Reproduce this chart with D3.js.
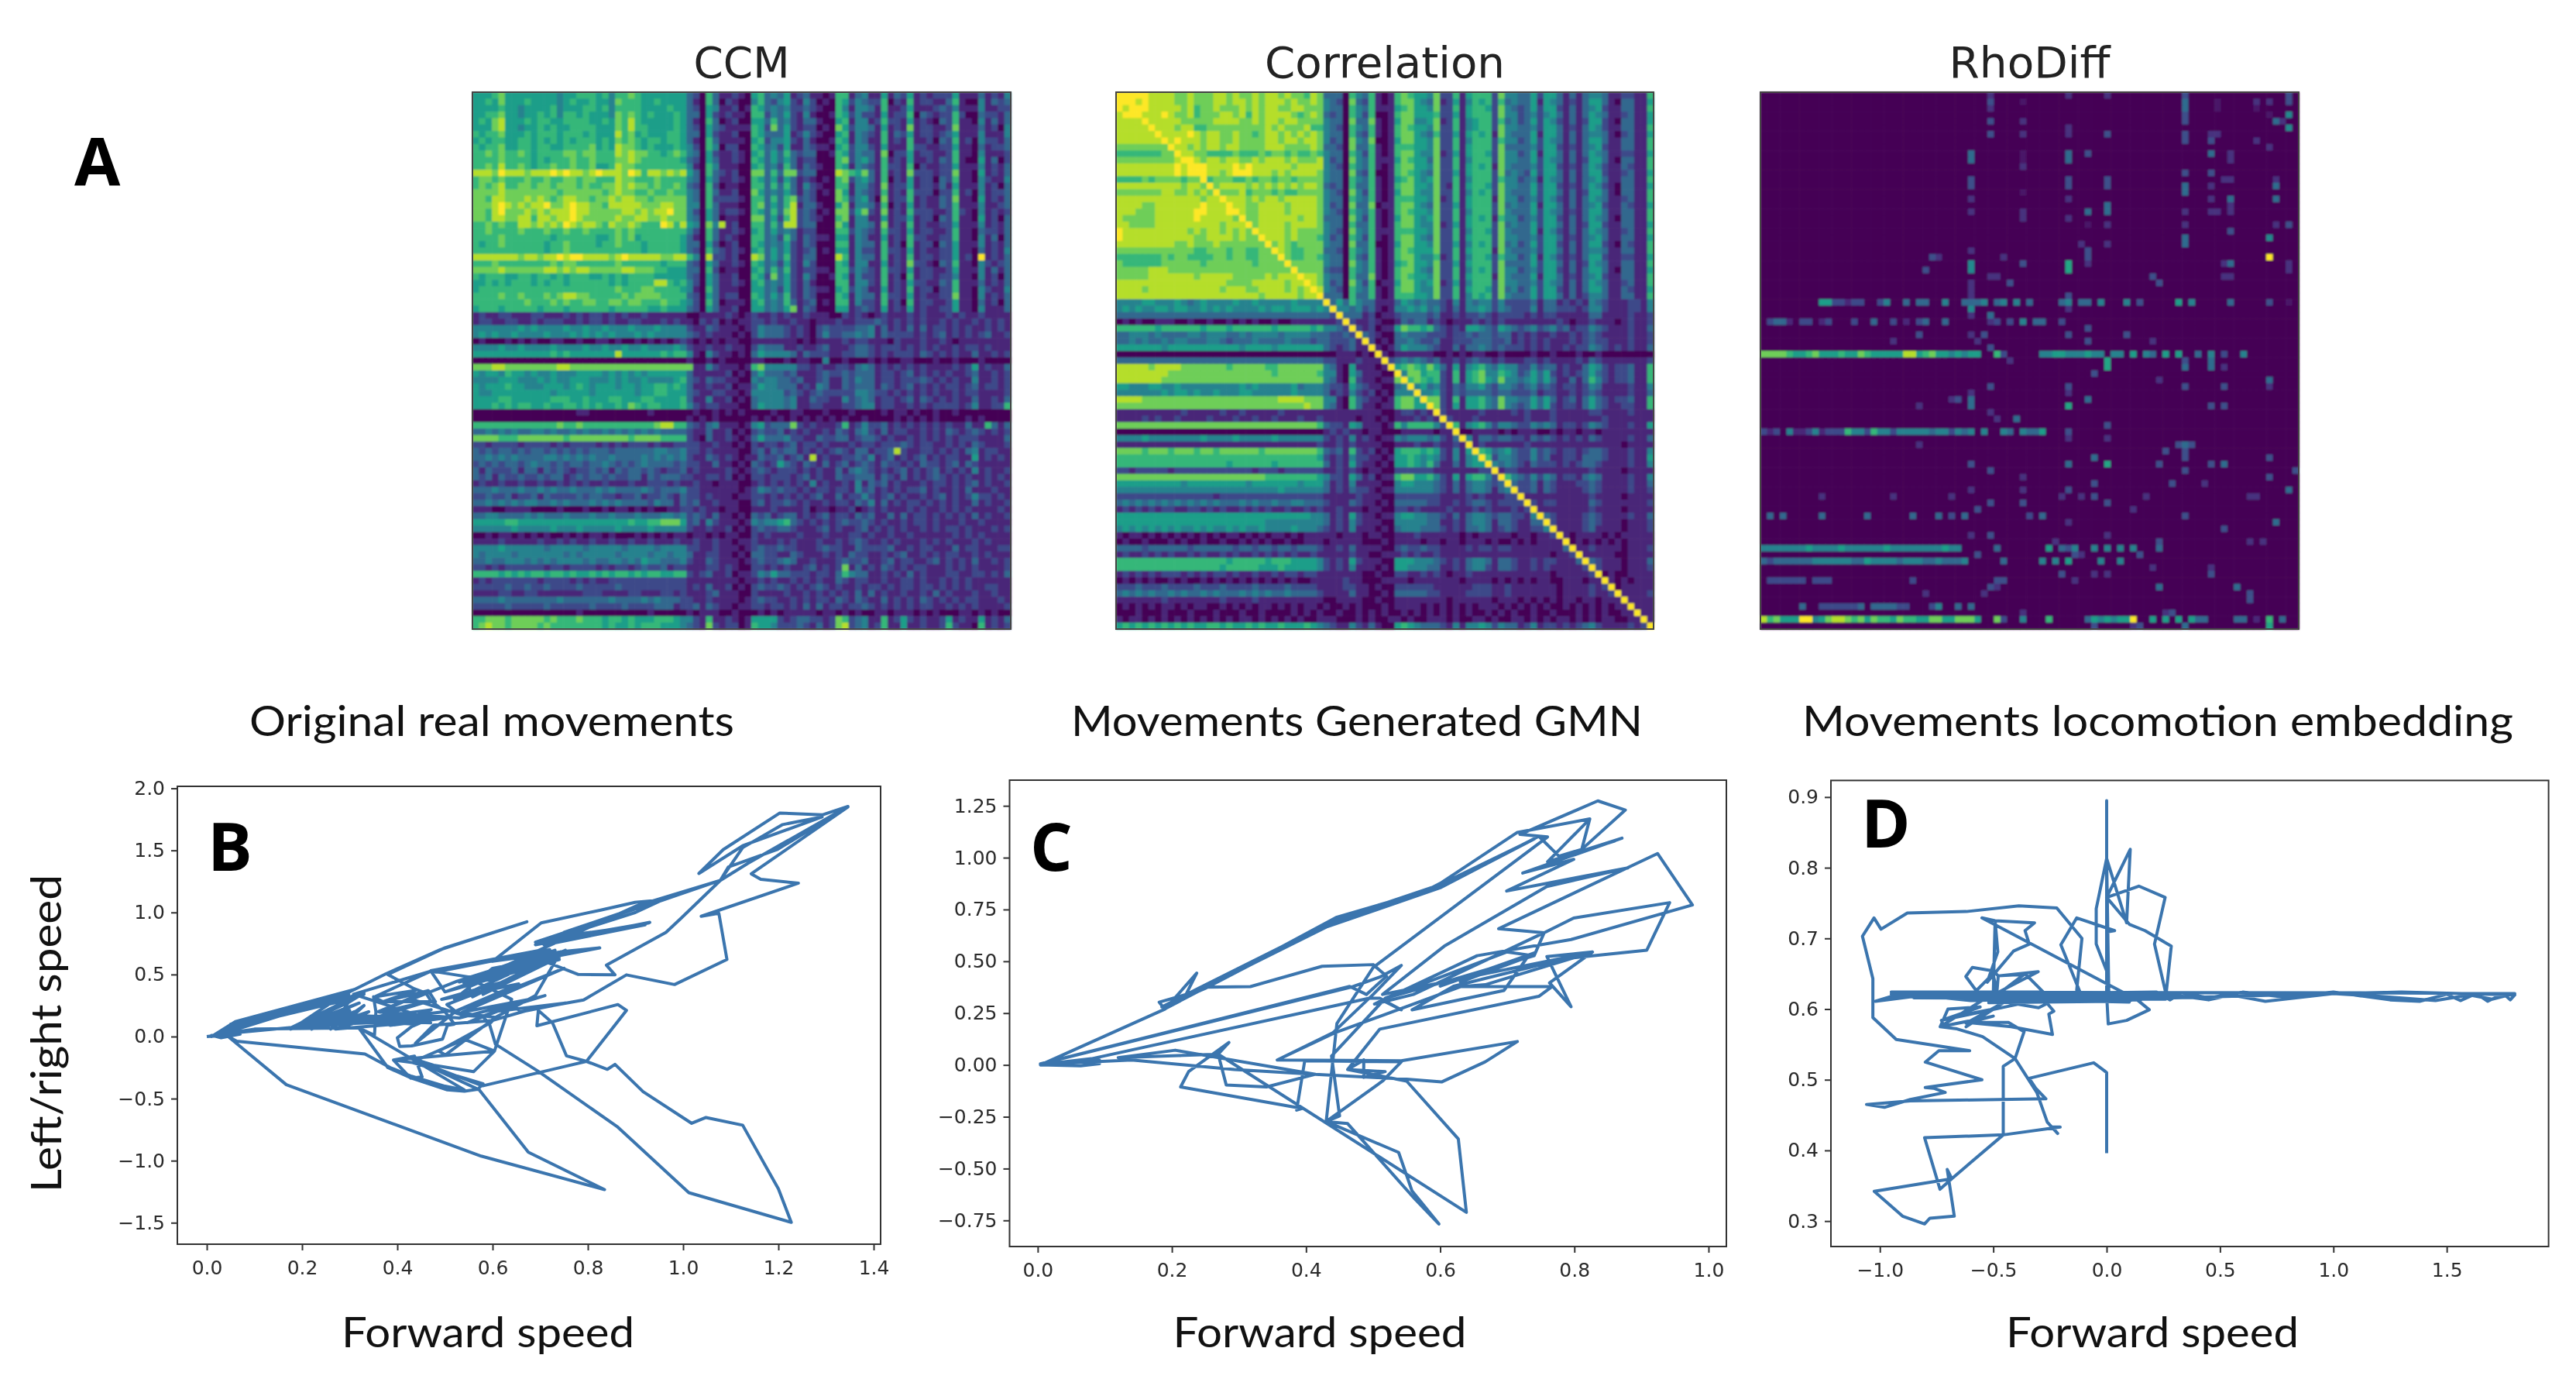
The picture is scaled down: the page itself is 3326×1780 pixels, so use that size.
<!DOCTYPE html>
<html><head><meta charset="utf-8">
<script src="https://cdnjs.cloudflare.com/ajax/libs/d3/7.8.5/d3.min.js"></script>
<style>html,body{margin:0;padding:0;background:#fff}svg{display:block}</style>
</head><body><svg id="fig" width="3326" height="1780"></svg>
<script>
const matrixSize = 83, levelMax = 9;
const ccmRows = [
"5556755555 5554556665 6466765555 5553206311 2105634351 2311016613 4115132512 1222511131 214",
"5565755565 5554565565 5476665565 5553106302 1004632452 1420106524 3226021612 2113610041 323",
"5555655455 5564555665 6466665555 6553205411 2016534342 2321006414 4316112511 1232411141 122",
"5566755455 6564665655 5476765655 5653305212 1106624352 1410016524 2215122603 2122620032 213",
"5657855565 6655666655 6576865555 5653106301 2005536342 1331005614 4126221512 1032611041 313",
"5557855455 6565566665 5576866555 5653205321 1116527352 1220107524 4315121712 2112711131 204",
"6566755565 6665666565 5586756555 6653305211 2006533351 2421005614 3216132512 2123511141 114",
"5656655665 6565656665 6576765665 6653106311 1105624452 1310016514 3116121611 2032612042 213",
"6566755665 6655666675 6587765655 5654206402 2006534251 1321105624 4215111622 1122511031 223",
"6676766765 6666776776 6687877665 6764305211 2105635363 2330016524 3317022512 2112611041 112",
"6666766665 6566676676 6677876666 6653205311 2106535353 1220006724 5316121511 2132610051 302",
"6676866765 6676676675 5687766666 6664106411 1005634263 1321006514 3216221602 1122511141 213",
"8887988878 8898988789 8887986887 8785306321 2007736377 2330008765 7316121722 2122711051 213",
"6776766676 6766776776 6687766676 6664305311 2106535253 1210106724 5316021512 2032611042 114",
"6767866776 7767776766 7787877676 6763206201 1006636363 1421006614 4217122512 2131511141 203",
"7777877777 7776777777 6787766766 7664306311 2007534353 1320107514 3216121622 2022612041 223",
"7768877787 8767887767 7878877677 7774306222 2106636367 2320007624 5207122612 1132711051 213",
"7778987878 8977898877 6888887778 8774406311 1006735368 1331005714 4316021512 1132611141 123",
"7768977787 8788898877 7778878788 9774205312 2106536378 2320107725 7217121622 2112621041 212",
"7768877886 8878898777 7787788778 7774305301 1007735268 2321006714 4115122512 2032611051 203",
"6676766887 8787987887 6877876669 8685407481 2006636388 2330007514 4317121612 1122511141 213",
"6676666766 6766766766 6676766666 6664206311 2105635343 1220006624 3216221512 2112611032 213",
"6666766666 6656666665 5676756666 6653106312 1006634263 1321105514 3115121622 1122611041 303",
"6566766666 6566766665 6676665666 6653305201 2006534352 1320006614 3316120612 2032511141 213",
"6666666666 6566766666 6666665666 6653206321 2105635352 1230105514 2216221512 1122511031 214",
"8888888788 7889899888 8789888887 7886408221 2008735362 1330008614 3316121612 2122512091 213",
"6667666666 6676776666 6676666665 6663205311 2106534252 1420006514 4115121722 1032611042 123",
"7777877777 7887878877 7778877766 5553306201 1005636362 1221106624 3216221512 2112511141 313",
"6566655665 6656566655 6565666655 5553205311 2006527352 1420016514 2216120612 2122411041 203",
"5565656665 6566566666 6565666688 6564205311 2105634352 1310006614 4216121522 1132611131 213",
"5666666666 6666666666 6676667766 6654106311 1005534252 1321105624 3115121612 2022611042 114",
"6666766766 6767887766 6667677776 6663205312 2006535362 1320006514 3316221512 1122711041 213",
"6666666676 6676766776 6776776667 6654206301 1105634363 1230106614 2216120612 2112511031 203",
"5666566666 5666566666 6566666556 5553205311 2005534357 1320005512 3215121512 1122511041 113",
"1211221112 2111212122 1212112111 1110011112 1012112121 1211100212 1012111212 1112121121 111",
"1221122112 1222112122 1211221112 1211021201 0112212112 1101112112 2232121212 1121211212 121",
"4444444545 4444544544 5444544454 4442113211 1012433321 2102322223 3413121313 1221212112 121",
"4545445444 4544454545 4544454544 4443212111 0102433321 2102422334 3413222212 1231212123 112",
"0100010101 0011001001 1010010101 0121010101 1001111111 0101111212 2111021112 1121011111 111",
"4444544544 4454444544 5445445444 4542112112 1102433311 2112311123 3212221212 1211212212 111",
"5555555555 5565655555 5585555556 5664104211 0103544443 1322211223 3212122213 2121211311 212",
"0000000000 0000000000 0000000000 0001001010 0001100010 1100400100 0101001100 0100100010 000",
"7778877777 7778877777 7777777777 7777114211 1016744444 2212112213 4312121212 1111212512 113",
"5455465545 4454445555 4545454555 5553111112 0103533323 1112322323 3312212312 1212112311 212",
"4444555444 5454455544 4545445444 4563213221 1004344332 3112311324 3312212223 2121211411 212",
"5455565544 4555456545 5545545566 5653112112 0113544333 1214311323 3313212312 1212212312 212",
"5445555555 5545555545 5555545566 5553211221 1014444423 2123222224 4322121212 1211212211 112",
"5555665555 5566655655 5665556655 5563114112 0103444434 1132211423 4312212313 2121211311 213",
"5556565665 5655665656 5565765665 5564212211 1003544434 1122111223 4412211212 1222212411 226",
"0000000000 0000001100 0000000100 0000100101 0100001001 1000100010 0001011010 0100100000 000",
"0000000000 0000000000 0000000000 0001010100 0001010101 0101010100 1000010101 0100001010 000",
"6666666666 6667667666 6666666678 8663213411 1014523337 2121112612 4223121212 1212113116 313",
"3343434334 4343343433 4343434343 3332113112 0102322312 1211213213 4213122112 1213212321 212",
"7777666777 7777677777 7777677776 6662103112 1013533342 2113223312 3321211212 1212122211 113",
"2212222122 2212122221 2121222121 1222211211 0102122123 1221211121 2212223212 2112121321 112",
"3232332323 3232323233 3233333344 3342212111 1002313233 1212123213 3122382112 2121213412 211",
"3343434333 3443434343 3433334343 4342113212 1011322312 3181211223 2412312123 1212211512 121",
"2323233234 3323233233 4323234333 3232211311 0103212532 1321312312 3213221213 2212313211 111",
"3132223133 1323212232 3132332321 2231211112 1012321222 1212113134 3212123121 2312121412 112",
"3231322322 3233123233 2322331323 3322112212 0102212221 2312113223 3313213121 2321212112 121",
"1211211211 2112121211 2111211222 1211211011 1001212121 2141211214 1323121112 1221212312 112",
"3334333433 4343343334 3433334323 3342211111 1012432322 1212212214 2312121223 1211213111 211",
"2232231223 1322223233 2212231223 2132212111 0112212121 2123113122 4212312112 1231212422 121",
"3343434344 3343433343 4343333243 3132311211 1002312232 1211212213 2413121221 2121211312 112",
"1110011110 0001000100 1011010100 1122121101 1001112111 1201101120 1212111212 1121212111 121",
"3344333343 4333433343 3433343334 4342321311 0103231233 1212312213 2311313122 1212121312 112",
"5555566555 5555555555 5555655667 7752314211 1014344563 2121212322 3212112122 1211121121 111",
"4444445444 4454445444 4454444544 4442112112 0102322332 1112312112 3121212112 1212212111 212",
"0010110101 0100101011 0100010101 0110110101 1002121111 2111211122 1211211211 1111212121 111",
"1111211111 2112121121 1211211211 1211211211 0112111212 1112112123 2112121112 1212111212 111",
"4444544444 4344444344 4443444434 4442211211 1012322322 1112322113 2222311212 2111312211 122",
"4344443444 4444343444 4434444344 3443112211 0103322113 2111212132 2112123112 1212211212 111",
"3343344434 3434444343 3443435443 3342113211 1012322343 1121112322 3112312211 2312121311 212",
"2212122222 2122122221 2122123223 1221112212 1002212121 1231212713 1213212122 1112121211 112",
"6666565656 6566565565 6566565665 5662123112 0112435332 2212213643 3112121312 1112211221 213",
"1212222222 1222212121 1222222222 2221111111 1011212112 1212113212 2112112212 1121212111 111",
"2222232232 2322223222 2232222222 2221213112 0102322321 2123212112 1221212212 2121212112 211",
"1111221122 1111111222 1111221112 2121112311 1002111121 1212121213 1312112112 1312111211 211",
"3333433333 3334333333 3433334343 3322112111 1012322112 1212213213 2113121213 2121212211 121",
"2222232222 2322222232 2223222233 3122313211 0112212212 1313122122 3212121212 2112121211 112",
"0000000000 0000001000 0000000100 0001011100 1000101011 1110110101 0011011101 0100011010 100",
"6677767777 7676667666 5665655566 6544216112 1015555212 3322127623 4116125212 1125121151 213",
"6787767777 6766666666 5655656665 5543217212 2016554222 3213127823 4126115112 1126211061 212"
];
const corrRows = [
"9999988887 7877788787 7878878776 8733306436 1016765547 2261566627 4433525531 3134431122 116",
"9998988887 7877788788 7878887877 8743207326 1016775437 1251465626 3433515431 2135531033 115",
"9899988888 7867787778 7878877887 7743306436 1115675547 2261566527 4323525521 3134521133 116",
"8999888987 7867778878 6878888767 8732306426 0016775556 2251566627 4423424531 3135431123 115",
"8888988888 7777788887 7878878877 7743307337 1015774457 1261456626 3423525421 3125521033 115",
"8888888887 8866777777 7778787778 6643206436 1016765547 2261456627 4433425531 2135421133 116",
"8888888888 8987887787 7678878787 8743306326 1016775436 2251565617 4333515531 3134431023 115",
"8888888889 8887887787 7778878878 8742307437 0015775547 2261466626 4423525431 3135531133 116",
"7777777778 8787887887 7778887777 8733207336 1016665547 2261566627 3333425521 2134521133 116",
"6666666777 8877666676 6676776766 7643306426 1016775447 1251566527 4423515531 3135431122 115",
"7777777778 8987887887 7878887877 7842307436 1115765537 2261466627 4433525431 3125531033 116",
"8888888889 8999888898 9888888788 8843206436 1016775547 2261565617 4333425521 2135421132 116",
"8888888889 8999887899 9888787888 8743307326 0016765437 2251566627 3432525531 3135521123 115",
"6666767777 6777677766 7677677677 7743306436 1015675457 2261466626 4423415431 3134531133 116",
"8888888888 7887878888 7878787878 8732306336 1016775547 2161566527 4433525521 2135421033 115",
"7777777887 7878787778 6777676677 7743207426 1015775447 2261465627 4333525531 3125531033 116",
"8888888888 8887888888 7878878888 8743306436 1016665547 1261566617 4423425421 3135431123 116",
"8888778888 8889888988 7788887888 8742307337 0116775437 2251566627 3433515531 3134521132 115",
"8887778888 8899888988 7788887888 8743206436 1016765547 2261466627 4333525431 2135531133 116",
"8777778888 8898888878 7788888878 8733307426 1015775457 2261565616 4423425521 3135431033 116",
"8877778888 8888887888 7788887888 8743306336 1016775447 1251566627 3433525531 3125521133 115",
"9888888888 8787887878 7788887877 7743207436 1116665547 2261466527 4333515421 3135431123 116",
"9888888888 8877888878 7788887877 7642306426 1016775437 2261566627 4433425531 2134531133 115",
"8888888887 7877787777 7778787677 7743307336 0015775547 2251465627 3423525521 3135521032 116",
"7777777777 7766777677 6677787667 7733206436 1016765557 2261566617 4333425531 3134431133 116",
"6666666767 7666677677 6677777667 7643306326 1016775446 1261466526 4423515421 2135521122 115",
"7666666777 7776777777 7677777777 7743307436 1015675547 2251566627 3333525531 3125431133 116",
"7777788877 7777777777 7777777677 7732206436 1016775437 2261465627 4423425521 3135531033 115",
"7777788888 8878888877 7778788878 8743306337 1016765547 2261566617 4333515531 2134521133 116",
"8888888888 8888888777 7888887888 8742307426 0115775457 1251466627 4433425431 3135431123 116",
"8888788888 8888887888 7788887878 8843206436 1016775447 2261566527 3423525521 3135531132 115",
"8888888888 8888888888 8878888878 8833306336 1016665547 2261465627 4333525531 3124431133 116",
"4444554445 4345444454 4544444544 4443536433 1113543433 2141434424 2222313312 1214321112 214",
"4545445545 5445454544 4454554555 4542443423 1014454534 2131445424 3222413322 2124421112 214",
"3333333333 3333333333 3333333333 3332233312 0112333323 1121223212 2221212211 1113311112 112",
"0101001110 0100100101 0100100111 1111212112 1001323312 1011121212 1111111121 0112111012 112",
"6666665666 6665666566 6666566666 5644326212 0115766563 2121554325 4323423423 1224321112 113",
"3344434333 3443444334 3444434444 3332232332 1003433322 2122323323 3121211211 2123211112 112",
"3343433434 4333443233 3433334333 2332223122 0103343223 1122233322 3121212111 2123221112 112",
"5555555455 5555555554 5555455555 5532123111 1013544432 1131334323 2221212112 1224321212 113",
"0000000000 0000000000 0000000000 0000111010 0101111110 0101011001 0000100100 0100100000 000",
"3333333333 3333333333 3333333333 3322111211 1023434323 1121232212 1112212111 1213211111 112",
"8888878888 7777777677 7776677777 7743105111 0115676575 3151456435 4422423312 1135421223 116",
"8888888877 7777777777 7777677777 7644105311 1006477566 2161567446 5423535212 1235321223 116",
"8888888777 7777777777 7777777777 7743106211 0117467656 2161567547 4434535311 3136421223 116",
"5544455445 4444444445 4544444534 4432215321 1003454534 2132445324 4323423212 2124311112 114",
"4444444545 5454454445 5444444544 4431214212 0104445445 2132333323 3222312211 2123211112 113",
"8888777777 7777777777 7777788887 7744106321 1016775477 2161556437 4433535312 3135321223 116",
"7777777777 7777777777 7777777778 7743106311 0116775577 2151556437 4323535212 2135321122 116",
"1111111111 2111112112 1111121111 1111111111 1001221212 2111112111 1212111211 1112211112 111",
"1111212112 1111211121 1211211121 1211111011 0101112121 1211121111 1112111211 1111121111 111",
"7777777777 7777777777 7777777777 7632215411 1016466664 2261456424 4322434312 2124321112 115",
"0000000000 0000000000 0000000000 0012121101 1000111110 1120011110 1011100101 1011011111 111",
"4444544444 4445444454 4444544444 4421214121 0114344434 2131413323 3221323212 1213211112 113",
"1111111111 1111111111 1111111111 1211212111 1001112112 1121112111 1112111111 1111111101 111",
"7777677767 7767767777 7767777777 7632316212 0105666565 2141566534 5322423212 2123321112 114",
"6666666666 6666666666 6666666666 6521214221 1015565454 2141455624 4322423112 2133321112 115",
"6666666666 6666666566 6666566666 6631215211 0105565463 1131455443 4321322212 1233211112 114",
"2212222212 2222222222 2122212222 2211212101 1002222221 1111112221 2211111111 1112111101 111",
"7777777777 7777777777 7776666666 6542215312 0116775564 2151566426 6432424312 2134311112 114",
"5555555555 4555555555 4555555545 5531214111 1004554443 2131344323 4322313211 1223211112 113",
"4444444444 4444444444 4444454444 4431213221 0114444443 2131344313 4322313211 1123211112 112",
"2222222222 2222212222 2222222222 2211111211 1002222222 1111212111 2211111111 1112111101 111",
"3434343434 3434343334 3433433443 3321113211 0103333322 1121233212 2223212211 1113211111 112",
"1212121221 1221212112 1212112112 1211211101 1002212111 1211121211 1212111111 1112111101 111",
"5555555555 5555555555 5555555555 4431215211 0114554433 2131344323 3221413211 1123211112 113",
"5555555555 5555555555 5554444444 4431214211 1004444433 1121344313 3211333211 1123211101 112",
"4545454545 4454544545 4454444544 4321214111 0103444333 2121334312 3211224211 1123111101 112",
"1011010101 0101010110 1010110101 1111011101 1001112111 1110101111 1011011211 0111101011 111",
"0100100010 1001001001 0101001001 1101111100 0101111011 0110111010 0101011111 0101010101 111",
"3333233333 3233333323 3233233233 3211213111 1002322322 1111212212 2111111113 2112111101 112",
"1211212121 1212112121 1212121211 2111112110 0111212112 1111111111 1111111011 2111111001 111",
"6666666666 6666666566 6665666555 5421215211 1005554443 2121344313 3211212211 1323211101 113",
"6666666666 6666665666 6655565555 5421214111 0105544433 1121344213 3211212111 1123211101 112",
"1212121222 1212122121 1211212212 2111111100 1002211212 1011211111 1111111011 1112101001 111",
"0101010010 1001010101 0101010100 1111121100 0111101111 1110111101 0101011001 1101101010 111",
"2223222322 2232223222 2322223222 2111122110 1002222221 1111122211 2111111101 1112121011 111",
"3434343343 4334343334 3434334333 3211113110 0103333322 1111222211 2111111101 1112112111 112",
"1111111211 1111112111 1211111111 1100111100 1001111111 1011111101 1101010101 1011011111 111",
"0101010110 1011001010 1011010101 1010010100 0101111010 1010101110 1010101001 0101010111 111",
"0001000100 0100010001 0010000101 0100100101 0100101010 1010100101 0100100100 0101010011 111",
"1011010101 0101010101 1010101010 0111000101 0011010011 1010011010 0110101011 0101011001 111",
"5656565656 5655665655 6565565556 5432114213 1005654333 2141445424 3312412212 1234211112 126"
];
const rhoRuns = [
[40,0,"7777655675 5565576555 5588567554 5455"],[40,36,"6200000445 5444544"],[40,54,"44050430505"],[40,67,"3040200400"],
[81,0,"8675559945 7887675766 5766557755 7775"],[81,36,"7200400060 0000004555 5"],[81,50,"3500400900 5050505330 0003301040"],[81,78,"6030"],
[70,0,"4444444544 4454444445 4444444454 4"],[70,24,"4 444"],[70,36,"3000000050 0040000000 0"],[70,46,"3400"],[70,51,"4040404000 3"],
[72,0,"3233333344 4444335444 4344433433 34"],[72,36,"0 3"],[72,43,"4040500004 0040"],
[32,9,"5522122002 4003033004 0033440300 4030"],[32,33,"3000400000 0"],[32,46,"3403304000 4"],[32,56,"4000000050 4000003"],
[35,1,"2331022012 0002003002 0"],[35,22,"1023"],[35,28,"3"],[35,36,"2020403300 2"],
[52,0,"2120411241 2226442644 2444443442 23"],[52,27,"4004040400 4"],[52,38,"3043350000"],
[65,1,"3030000030 0000030000 0030003020 3"],[65,40,"02030"],
[75,1,"2222220222 0000"],[75,23,"2"],
[79,6,"3002222223 0333322000 2"],[79,27,"4003030"]
];
const rhoCells = [
[0,35,2],[1,35,3],[2,35,2],[4,35,3],[6,35,3],[9,32,4],[10,32,4],[13,32,3],[14,32,3],[16,32,2],[18,32,2],[24,32,2],[26,32,5],[27,32,5],[29,32,2],[30,32,2],[31,32,2],[33,32,5],
[0,47,2],[5,47,2],[6,47,2],[9,47,4],[10,47,4],[13,47,3],[14,47,3],[16,47,2],[19,47,2],[26,47,6],[27,47,6],[31,47,3],[33,47,2],
[1,40,1],[4,40,2],[6,40,2],[9,40,1],[10,40,1],[11,40,2],[15,40,1],[18,40,2],[19,40,2],[26,40,3],
[0,53,2],[6,53,3],[13,53,3],[14,53,3],[17,53,4],[18,53,4],[20,53,2],[23,53,2],[9,50,3],[18,50,4],[24,50,3],[25,50,3],[26,50,2],
[0,65,3],[1,65,4],[2,65,4],[3,65,3],[4,65,3],[6,65,3],[7,65,3],[12,65,3],[14,65,4],[15,65,4],[18,65,2],[20,65,2],[22,65,4],[23,65,4],
[6,69,2],[7,69,3],[9,69,4],[12,69,3],[14,69,2],[16,69,2],[18,69,2],[1,70,1],[2,70,1],[6,70,2],[18,70,2],
[9,72,2],[10,72,2],[13,71,2],[13,72,2],[16,72,4],[17,72,2],[18,72,2],[21,72,3],[26,72,4],[26,71,2],[28,71,2],[28,72,2],
[1,76,2],[2,76,1],[7,76,2],[1,78,2],[3,78,1],[8,78,2],[4,79,4],[13,79,2],[14,79,4],[16,79,4],[20,79,2],[22,78,5],[25,78,9],[32,78,3],
[0,81,3],[1,81,3],[3,81,5],[5,81,5],[4,80,2],[20,81,3],[26,81,2],[27,81,2],[32,81,1],
[20,50,1],[23,49,2],[25,26,3],[25,27,2],[27,25,3],[25,37,2],[28,35,2],[28,36,2],[28,60,3],[29,61,3],[29,38,3],[32,58,3],
[34,32,2],[34,35,4],[35,35,2],[36,50,3],[37,24,3],[37,32,2],[37,34,3],[37,47,3],[37,56,3],[38,20,2],[38,33,2],[38,50,3],[38,60,2],
[39,35,3],[41,53,6],[42,53,6],[41,69,4],[42,69,4],[41,65,3],[42,65,4],[41,38,2],[43,51,3],[44,61,2],[44,78,4],[42,71,2],
[45,65,3],[45,35,3],[45,47,3],[45,71,3],[45,78,2],[46,32,2],[46,47,2],[47,50,4],[47,29,2],[47,30,3],[47,32,4],[48,32,4],[48,47,6],[48,24,2],[48,69,3],[48,71,3],
[49,35,2],[50,39,4],[50,36,2],[51,53,3],[52,47,3],[54,65,4],[53,47,2],[53,53,2],[55,65,3],[54,64,3],[54,66,3],[54,24,2],[55,62,3],[56,51,4],[56,65,3],[56,78,3],
[57,32,3],[57,47,4],[57,53,6],[57,61,3],[57,69,3],[57,71,4],[58,35,3],[58,65,3],[58,82,3],[59,40,2],[59,78,3],[60,51,3],[60,63,3],[60,68,2],[61,32,2],[61,47,3],[61,40,2],[61,81,4],
[62,9,2],[62,20,2],[62,29,2],[62,46,2],[62,49,2],[62,51,3],[62,59,2],[62,75,2],[62,76,2],[63,35,3],[63,40,3],[63,53,3],[64,33,3],[64,57,2],[65,65,3],[66,47,2],[66,79,4],
[67,71,3],[68,35,3],[68,32,2],[68,53,2],[69,45,2],[69,61,3],[69,75,2],[69,77,2],[70,47,3],[71,33,3],[71,48,3],[71,49,2],[71,58,3],[73,60,2],[73,69,2],[74,46,3],[74,51,2],[74,53,2],[74,69,3],
[75,36,3],[75,37,3],[75,48,2],[76,35,3],[76,36,2],[76,61,4],[76,73,4],[77,25,2],[77,34,2],[77,75,3],[78,75,3],[80,40,2],[80,62,2],[80,63,3],
[82,51,3],[82,57,2],[82,58,3],[82,65,4],[82,78,6]
];
const traceB = [
[0,0],[.02,.01],[.045,.03],[.05,.1],[.2,.22],[.3,.36],[.376,.505],[.49,.7],[.672,.925],[.5,.715],[.38,.5],[.433,.39],[.46,.35],[.47,.29],[.5,.2],[.52,.1],[.505,.09],[.495,-.02],[.43,-.075],[.405,-.08],[.4,-.01],[.43,.08],[.46,.13],[.28,.15],[.176,.06],[.3,.28],[.33,.35],[.05,.07],[.01,0],
[.06,.12],[.31,.38],[.07,.09],[.3,.3],[.176,.07],[.298,.28],[.26,.06],[.33,.25],[.28,.07],[.35,.16],[.27,.1],[.46,.13],[.29,.14],[.47,.11],[.3,.16],[.45,.17],
[.03,.02],[.298,.34],[.05,.09],[.3,.32],[.04,.06],[.33,.34],[.07,.11],[.28,.3],[.05,.08],[.26,.27],[.18,.065],[.32,.27],[.2,.07],[.3,.21],[.22,.06],[.31,.2],[.26,.065],[.3,.17],[.24,.07],[.34,.2],[.27,.06],[.46,.12],[.3,.13],[.44,.1],[.32,.15],[.46,.15],[.3,.17],[.42,.12],[.29,.11],[.47,.14],
[.308,.341],[.471,.528],[.352,.32],[.438,.372],[.368,.279],[.465,.37],[.363,.196],[.46,.279],[.36,.16],[.471,.216],[.385,.09],[.509,.154],[.35,.13],[.52,.21],[.504,.258],[.645,.466],[.493,.3],[.655,.424],[.52,.2],[.75,.55],[.536,.196],[.677,.3],[.547,.112],[.639,.258],[.66,.2],[.753,.27],[.6,.2],[.71,.33],[.53,.15],
[.36,.2],[.465,.37],[.48,.28],[.37,.28],[.35,.32],[.355,.2],[.352,.01],[.319,.07],[.38,-.25],[.43,-.335],[.505,-.43],[.541,-.44],[.569,-.424],[.444,-.2],[.579,-.397],[.753,-.24],[.797,-.2],[.881,.211],[.863,.258],[.693,.087],[.696,.211],[.726,.109],[.755,-.155],[.797,-.2],[.841,-.264],[.857,-.224],[.916,-.444],[1.018,-.699],[1.048,-.652],[1.125,-.714],[1.2,-1.227],[1.227,-1.497],[1.012,-1.258],[.863,-.73],[.696,-.28],[.606,-.062],[.594,.093],[.58,.16],[.54,.17],
[.43,.3],[.525,.445],[.731,.695],[.55,.4],[.558,.32],[.753,.695],[.6,.45],[.471,.528],[.585,.612],[.699,.695],[.74,.62],[.5,.36],[.47,.53],[.7,.69],[.48,.52],[.72,.7],[.53,.44],[.75,.68],[.54,.43],[.74,.66],[.56,.33],[.75,.67],[.58,.34],[.74,.64],[.5,.36],[.74,.68],[.6,.606],[.702,.916],[.827,1.019],[.899,1.081],[.958,1.102],[.69,.76],[.928,.916],[.708,.739],[.915,.9],[.69,.74],[.93,.92],[.71,.74],[.92,.9],[.73,.8],[.95,1.1],[.75,.84],[.92,1.06],[.72,.78],[.9,1.0],[.95,1.09],[1.078,1.258],[1.125,1.522],[1.209,1.708],[1.292,1.77],[1.125,1.537],[1.033,1.314],[1.084,1.506],[1.203,1.801],[1.292,1.786],[1.346,1.854],[1.137,1.398],[1.078,1.258],[1.095,1.366],[1.197,1.506],[1.346,1.85],[1.143,1.311],[1.163,1.267],[1.242,1.236],[1.038,.969],[1.075,.994],[1.092,.621],[.982,.419],[.881,.497],[.791,.295],[.678,.217],[.6,.13],
[.476,.092],[.438,-.054],[.52,.196],[.606,.154],[.596,.112],[.487,-.117],[.501,-.148],[.606,.154],[.69,.33],[.743,.683],[.825,.714],[.6,.55],[.52,.3],[.7,.62],[.78,.5],[.857,.497],[.839,.575],[.964,.839],[.994,.947],[1.078,1.258],[.9,1.05],[.7,.7],[.56,.45],[.64,.3],[.604,-.117],[.56,-.283],[.476,-.231],[.441,-.189],[.541,-.023],[.604,-.117],
[.392,-.189],[.436,-.158],[.452,-.325],[.428,-.335],[.392,-.189],[.432,-.21],[.58,-.38],[.57,-.42],[.675,-.932],[.835,-1.233],[.576,-.963],[.167,-.388],[.045,0],[.063,-.037],[.332,-.14],[.385,-.25],[.43,-.32],[.5,-.4],[.541,-.43],[.32,.07],[.1,.06],[.01,.01],[.03,-.01],[.07,.02],[0,0]
];
const traceC = [
[.004,0],[.064,-.004],[.092,.006],[.092,.024],[.068,.024],[.004,0],[.19,.27],[.237,.443],[.221,.34],[.181,.303],[.189,.27],[.253,.378],[.446,.713],[.574,.833],[.602,.88],[.715,1.122],[.823,1.187],[.811,1.04],[.777,1.007],[.747,1.103],[.6,.86],[.44,.69],[.25,.37],[.185,.28],[.24,.37],[.444,.7],[.6,.87],[.74,1.09],[.6,.855],[.43,.665],[.25,.375],[.317,.378],[.424,.476],[.5,.484],[.52,.428],[.49,.34],[.465,.379],[.004,.005],[.47,.378],[.51,.424],[.542,.48],[.5,.34],[.44,.155],[.357,.024],[.542,.02],[.715,.113],[.667,.015],[.602,-.082],[.55,-.069],[.414,-.045],[.293,-.022],[.14,.024],[.01,.004],
[.08,.03],[.494,.322],[.51,.322],[.542,.266],[.515,.31],[.438,.043],[.45,-.246],[.43,-.273],[.514,-.078],[.542,.015],[.398,.02],[.386,-.218],[.394,-.21],[.213,-.106],[.225,-.032],[.285,.108],[.269,.052],[.281,-.097],[.341,-.106],[.414,-.045],[.205,.071],[.12,.035],[.269,.052],[.639,-.711],[.627,-.357],[.55,-.078],[.462,-.022],[.486,.024],[.486,-.06],[.518,-.032],[.462,-.022],
[.51,.173],[.747,.331],[.767,.378],[.631,.378],[.442,.154],[.357,.024],[.442,.154],[.631,.378],[.667,.387],[.799,.517],[.908,.554],[.942,.783],[.799,.709],[.755,.638],[.687,.657],[.924,1.02],[.976,.772],[.795,.605],[.655,.527],[.502,.294],[.56,.34],[.755,.638],[.74,.527],[.622,.415],[.518,.322],[.699,.545],[.739,.527],[.622,.415],[.6,.38],[.74,.54],[.63,.4],[.73,.52],[.695,.359],[.558,.266],[.62,.38],[.827,.545],[.759,.523],[.795,.281],[.763,.396],[.827,.545],
[.514,.34],[.606,.573],[.759,.861],[.88,.951],[.699,.839],[.799,.992],[.723,.926],[.871,1.094],[.779,1.0],[.86,1.08],[.76,.98],[.823,1.187],[.811,1.04],[.876,1.23],[.835,1.274],[.719,1.112],[.76,1.1],[.5,.47],[.446,.2],[.43,-.273],[.538,-.422],[.558,-.608],[.598,-.767],[.562,-.646],[.462,-.283],[.43,-.273]
];
const traceD = [
[0,.396],[0,.51],[-.011,.513],[-.057,.524],[-.342,.502],[-.313,.488],[-.268,.473],[-.866,.47],[-1.059,.465],[-.98,.461],[-.866,.472],[-.712,.482],[-.763,.488],[-.8,.489],[-.55,.5],[-.8,.525],[-.74,.541],[-.604,.541],[-.928,.557],[-1.031,.588],[-1.031,.643],[-1.077,.703],[-1.026,.729],[-.995,.713],[-.879,.736],[-.619,.738],[-.387,.746],[-.22,.743],[-.109,.7],[-.132,.627],[-.11,.618],
[-.202,.691],[-.132,.729],[.035,.711],[0,.709],[0,.895],[0,.813],[-.046,.742],[-.046,.692],[0,.654],[.01,.612],[0,.813],[.088,.722],[.104,.826],[0,.758],[.142,.774],[.258,.758],[.211,.692],[.262,.621],[.285,.689],[.169,.711],[.1,.72],[0,.758],[0,.62],
[.007,.579],[.088,.584],[.188,.599],[.135,.613],[-.55,.729],[-.492,.725],[-.318,.722],[-.36,.711],[-.341,.692],[-.411,.682],[-.527,.638],[-.48,.681],[-.492,.725],[-.5,.62],
[-.302,.653],[-.478,.647],[-.501,.654],[-.592,.659],[-.621,.646],[-.575,.626],[-.501,.65],[-.484,.624],[-.478,.647],[-.364,.649],[-.467,.624],[-.36,.65],[-.279,.624],
[-.95,.624],[1.1,.623],[1.8,.622],[1.7,.614],[1.6,.62],[1.45,.612],[1.2,.618],[1,.622],[.7,.611],[.55,.62],[.45,.613],[.25,.622],[.1,.612],[-.95,.618],[-1.02,.611],[-.8,.62],[.22,.624],[.28,.613],[.33,.623],[.45,.616],[.6,.624],[.78,.617],[1.0,.624],[1.25,.613],[1.38,.611],[1.5,.621],[1.56,.612],[1.63,.622],[1.68,.611],[1.75,.622],[1.78,.613],[1.8,.62],[1.3,.624],[.9,.621],[.3,.616],[-.9,.622],[-.6,.612],[.2,.618],[-.5,.616],[.15,.613],[-.7,.624],[.24,.621],[-.4,.611],[.05,.623],[-.95,.621],[.3,.62],[-.85,.616],[.26,.614],[-.75,.619],[.2,.615],[-.6,.622],[.1,.617],[-.55,.614],[.25,.619],[-.45,.613],[.15,.622],[-.52,.609],[.03,.611],[-.45,.624],[.1,.61],[-.3,.613],
[-.729,.584],[-.558,.603],[-.7,.6],[-.734,.575],[-.55,.612],[-.66,.59],[-.5,.6],[-.62,.575],[-.45,.61],[-.62,.58],[-.5,.59],[-.734,.575],[-.66,.572],[-.547,.561],[-.404,.53],[-.456,.519],[-.456,.422],[-.803,.418],[-.735,.345],[-.683,.36],[-1.025,.342],[-.9,.307],[-.803,.296],[-.78,.304],[-.672,.307],[-.703,.373],[-.683,.36],[-.456,.422],[-.205,.433],[-.24,.433],[-.216,.424],[-.262,.44],[-.308,.482],[-.404,.53],[-.364,.568],[-.433,.581],[-.615,.581],[-.421,.575],[-.239,.564],[-.255,.593],[-.233,.597],[-.262,.608],[-.3,.602],[-.45,.61]
];
const labelFmt1 = d3.format(".1f"), labelFmt2 = d3.format(".2f");
const xTicksB = [0,.2,.4,.6,.8,1,1.2,1.4], yTicksB = [-1.5,-1,-.5,0,.5,1,1.5,2];
const xTicksC = [0,.2,.4,.6,.8,1], yTicksC = [-.75,-.5,-.25,0,.25,.5,.75,1,1.25];
const xTicksD = [-1,-.5,0,.5,1,1.5], yTicksD = [.3,.4,.5,.6,.7,.8,.9];
const heatTitles = ["CCM","Correlation","RhoDiff"];
const rowTitles = ["Original real movements","Movements Generated GMN","Movements locomotion embedding"];

// ---- layout ----
const svg = d3.select("#fig");
const defs = svg.append("defs");
defs.append("filter").attr("id","soft").attr("x","-2%").attr("y","-2%").attr("width","104%").attr("height","104%")
  .append("feGaussianBlur").attr("stdDeviation",1.1);
defs.append("filter").attr("id","softL").attr("x","-2%").attr("y","-2%").attr("width","104%").attr("height","104%")
  .append("feGaussianBlur").attr("stdDeviation",.7);
defs.append("filter").attr("id","softT").append("feGaussianBlur").attr("stdDeviation",.6);

const color = d3.scaleSequential(d3.interpolateViridis).domain([0, levelMax]);
const rhoLevel = d3.scalePow().exponent(1.3).domain([0, levelMax]).range([0, levelMax]);
const parseRows = rows => rows.map(r => r.split(" ").join("").split("").map(Number));
const ccm = parseRows(ccmRows), corr = parseRows(corrRows);
const rho = d3.range(matrixSize).map(() => new Array(matrixSize).fill(0));
rhoRuns.forEach(([r,c,s]) => s.split(" ").join("").split("").forEach((v,k) => { if (+v && c+k<matrixSize) rho[r][c+k] = +v; }));
rhoCells.forEach(([r,c,v]) => { rho[r][c] = rhoLevel(v); });
corr.forEach((row,i) => { if (i<matrixSize) row[i] = levelMax; });

const heatLayout = [{x:610,w:695},{x:1441,w:694},{x:2273,w:695}];
const heatTop = 119, heatH = 693;
[ccm,corr,rho].forEach((m,k) => {
  const L = heatLayout[k];
  const xb = d3.scaleBand().domain(d3.range(matrixSize)).range([L.x,L.x+L.w]);
  const yb = d3.scaleBand().domain(d3.range(matrixSize)).range([heatTop,heatTop+heatH]);
  const g = svg.append("g").attr("filter","url(#soft)");
  m.forEach((row,i) => {
    g.selectAll(null).data(row.slice(0,matrixSize)).enter().append("rect")
      .attr("x",(d,j)=>xb(j)).attr("y",yb(i))
      .attr("width",xb.bandwidth()+.6).attr("height",yb.bandwidth()+.6)
      .attr("fill",d=>color(d));
  });
  svg.append("rect").attr("x",L.x).attr("y",heatTop).attr("width",L.w).attr("height",heatH)
    .attr("fill","none").attr("stroke","#444").attr("stroke-width",2);
  svg.append("text").attr("x",L.x+L.w/2).attr("y",100).attr("text-anchor","middle")
    .attr("font-family","DejaVu Sans").attr("font-size",55).attr("fill","#222").attr("filter","url(#softT)")
    .attr("textLength",k===1?310:k===0?124:208).attr("lengthAdjust","spacingAndGlyphs")
    .text(heatTitles[k]);
});

const plots = [
 {trace:traceB,box:[229,1137,1015,1606],xd:[-.0618,1.4146],yd:[-1.673,2.016],xt:xTicksB,yt:yTicksB,yf:labelFmt1,
  label:"B",lx:268,ly:1124,tx:635,tw:626,ty:950,title:rowTitles[0],fx:630,fw:378},
 {trace:traceC,box:[1303.5,2229,1007,1609],xd:[-.042,1.0266],yd:[-.876,1.374],xt:xTicksC,yt:yTicksC,yf:labelFmt2,
  label:"C",lx:1330,ly:1124,tx:1752,tw:738,ty:950,title:rowTitles[1],fx:1704,fw:379},
 {trace:traceD,box:[2364,3290.6,1007.4,1609],xd:[-1.216,1.949],yd:[.264,.9235],xt:xTicksD,yt:yTicksD,yf:labelFmt1,
  label:"D",lx:2403,ly:1094,tx:2786,tw:918,ty:950,title:rowTitles[2],fx:2779,fw:378}
];
const sansFont = "Lato";
plots.forEach(P => {
  const [l,r,t,b] = P.box;
  const x = d3.scaleLinear().domain(P.xd).range([l,r]);
  const y = d3.scaleLinear().domain(P.yd).range([b,t]);
  svg.append("path").datum(P.trace)
    .attr("d",d3.line().x(d=>x(d[0])).y(d=>y(d[1])))
    .attr("fill","none").attr("stroke","#3a75ae").attr("stroke-width",4)
    .attr("stroke-linejoin","round").attr("filter","url(#softL)");
  svg.append("rect").attr("x",l).attr("y",t).attr("width",r-l).attr("height",b-t)
    .attr("fill","none").attr("stroke","#333").attr("stroke-width",2);
  const ax = svg.append("g").attr("transform",`translate(0,${b})`)
    .call(d3.axisBottom(x).tickValues(P.xt).tickFormat(labelFmt1).tickSize(8).tickPadding(13));
  const ay = svg.append("g").attr("transform",`translate(${l},0)`)
    .call(d3.axisLeft(y).tickValues(P.yt).tickFormat(P.yf).tickSize(8).tickPadding(8));
  [ax,ay].forEach(a => {
    a.select(".domain").remove();
    a.selectAll("line").attr("stroke","#333").attr("stroke-width",2);
    a.selectAll("text").attr("font-family","DejaVu Sans").attr("font-size",25).attr("fill","#2a2a2a").attr("filter","url(#softT)");
  });
  svg.append("text").attr("x",P.lx).attr("y",P.ly).attr("font-family","Open Sans").attr("font-weight",700)
    .attr("font-size",86).attr("fill","#000").text(P.label);
  svg.append("text").attr("x",P.tx).attr("y",P.ty).attr("text-anchor","middle").attr("font-family",sansFont)
    .attr("font-size",54).attr("fill","#111").attr("textLength",P.tw).attr("lengthAdjust","spacingAndGlyphs").text(P.title);
  svg.append("text").attr("x",P.fx).attr("y",1739).attr("text-anchor","middle").attr("font-family",sansFont)
    .attr("font-size",54).attr("fill","#111").attr("textLength",P.fw).attr("lengthAdjust","spacingAndGlyphs").text("Forward speed");
});
svg.append("text").attr("transform","translate(79,1334) rotate(-90)").attr("text-anchor","middle")
  .attr("font-family",sansFont).attr("font-size",54).attr("fill","#111")
  .attr("textLength",410).attr("lengthAdjust","spacingAndGlyphs").text("Left/right speed");
svg.append("text").attr("x",96).attr("y",240).attr("font-family","Open Sans").attr("font-weight",700)
  .attr("font-size",86).attr("fill","#000").text("A");
</script></body></html>
